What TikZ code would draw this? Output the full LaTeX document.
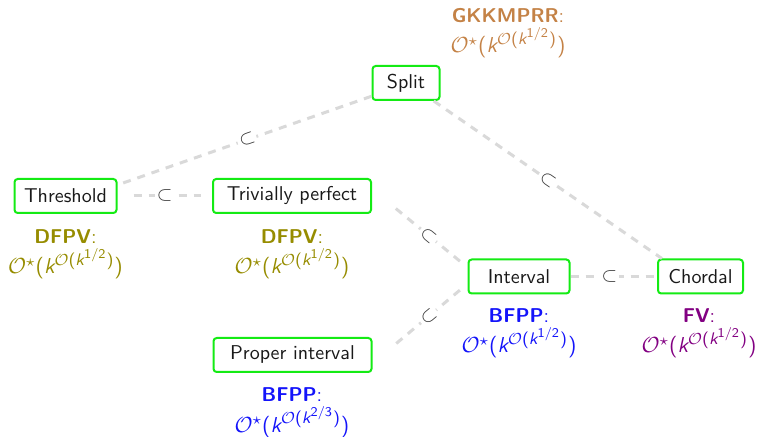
\documentclass[tikz,border=0pt]{standalone}
\usepackage{amsmath}
\DeclareMathSizes{10.8}{10.8}{8.4}{6.7}
\definecolor{boxgreen}{RGB}{20,235,20}
\definecolor{edgegray}{RGB}{217,217,217}
\definecolor{dfpvcol}{RGB}{150,140,0}
\definecolor{gkcol}{RGB}{196,130,70}
\definecolor{bfppcol}{RGB}{20,20,250}
\definecolor{fvcol}{RGB}{130,0,130}
% running-time bound O*(k^{O(k^{e})})
\newcommand{\runbound}[1]{{\fontsize{10.8}{13}\selectfont$\mathcal{O}^{\star}\text{(}\textit{k}^{\mathcal{O}\text{(}\textit{k}^{\text{#1}}\text{)}}\text{)}$}}
\begin{document}
\begin{tikzpicture}[x=0.5pt,y=-0.5pt,font=\sffamily,
  cls/.style={draw=boxgreen,line width=1pt,rounded corners=1.6pt,fill=white,
    minimum height=17pt,inner xsep=0pt,inner ysep=2pt,text=black!90},
  incl/.style={draw=edgegray,line width=1.5pt,dash pattern=on 4pt off 3.5pt},
  sub/.style={sloped,fill=white,inner sep=1pt,text=black!80,font=\normalsize},
  result/.style={align=center,anchor=base}]
\useasboundingbox (0,0) rectangle (759,437);

% graph classes
\node[cls,minimum width=51pt]   (thr)   at (65.5,196) {Threshold};
\node[cls,minimum width=79pt]   (tp)    at (292,196)  {Trivially perfect};
\node[cls,minimum width=33.5pt] (split) at (406,83)   {Split};
\node[cls,minimum width=50.5pt] (iv)    at (519,276.5) {Interval};
\node[cls,minimum width=42.5pt] (ch)    at (700.5,276.5) {Chordal};
\node[cls,minimum width=79pt]   (pi)    at (292.5,355) {Proper interval};

% inclusions
\draw[incl,shorten <=3pt] (thr.12) -- node[sub,pos=0.51] {$\subset$} (split.201);
\draw[incl,shorten <=8pt,shorten >=5.5pt] (thr.east) -- node[sub,pos=0.5] {$\subset$} (tp.west);
\draw[incl,shorten <=15.4pt,shorten >=3.2pt] (tp.5) -- node[sub,pos=0.59] {$\subset$} (iv.170);
\draw[incl,shorten <=15.5pt,shorten >=3.2pt] (pi.-6) -- node[sub,pos=0.59] {$\subset$} (iv.188);
\draw[incl] (iv.east) -- node[sub,pos=0.45] {$\subset$} (ch.west);
\draw[incl] (split.-33) -- node[sub,pos=0.5] {$\subset$} (ch.155);

% algorithms and their running times (base = baseline of the bound)
\node[result,text=dfpvcol] (thrres) at (65.5,274) {\textbf{DFPV}:\\[1.5pt]\runbound{1/2}};
\node[result,text=dfpvcol] (tpres) at (292,274) {\textbf{DFPV}:\\[1.5pt]\runbound{1/2}};
\node[result,text=gkcol] (splitres) at (508,53) {\textbf{GKKMPRR}:\\[1.5pt]\runbound{1/2}};
\node[result,text=bfppcol] (ivres) at (519,353) {\textbf{BFPP}:\\[1.5pt]\runbound{1/2}};
\node[result,text=fvcol] (chres) at (699,353) {\textbf{FV}:\\[1.5pt]\runbound{1/2}};
\node[result,text=bfppcol] (pires) at (292,432) {\textbf{BFPP}:\\[1.5pt]\runbound{2/3}};
\end{tikzpicture}
\end{document}
